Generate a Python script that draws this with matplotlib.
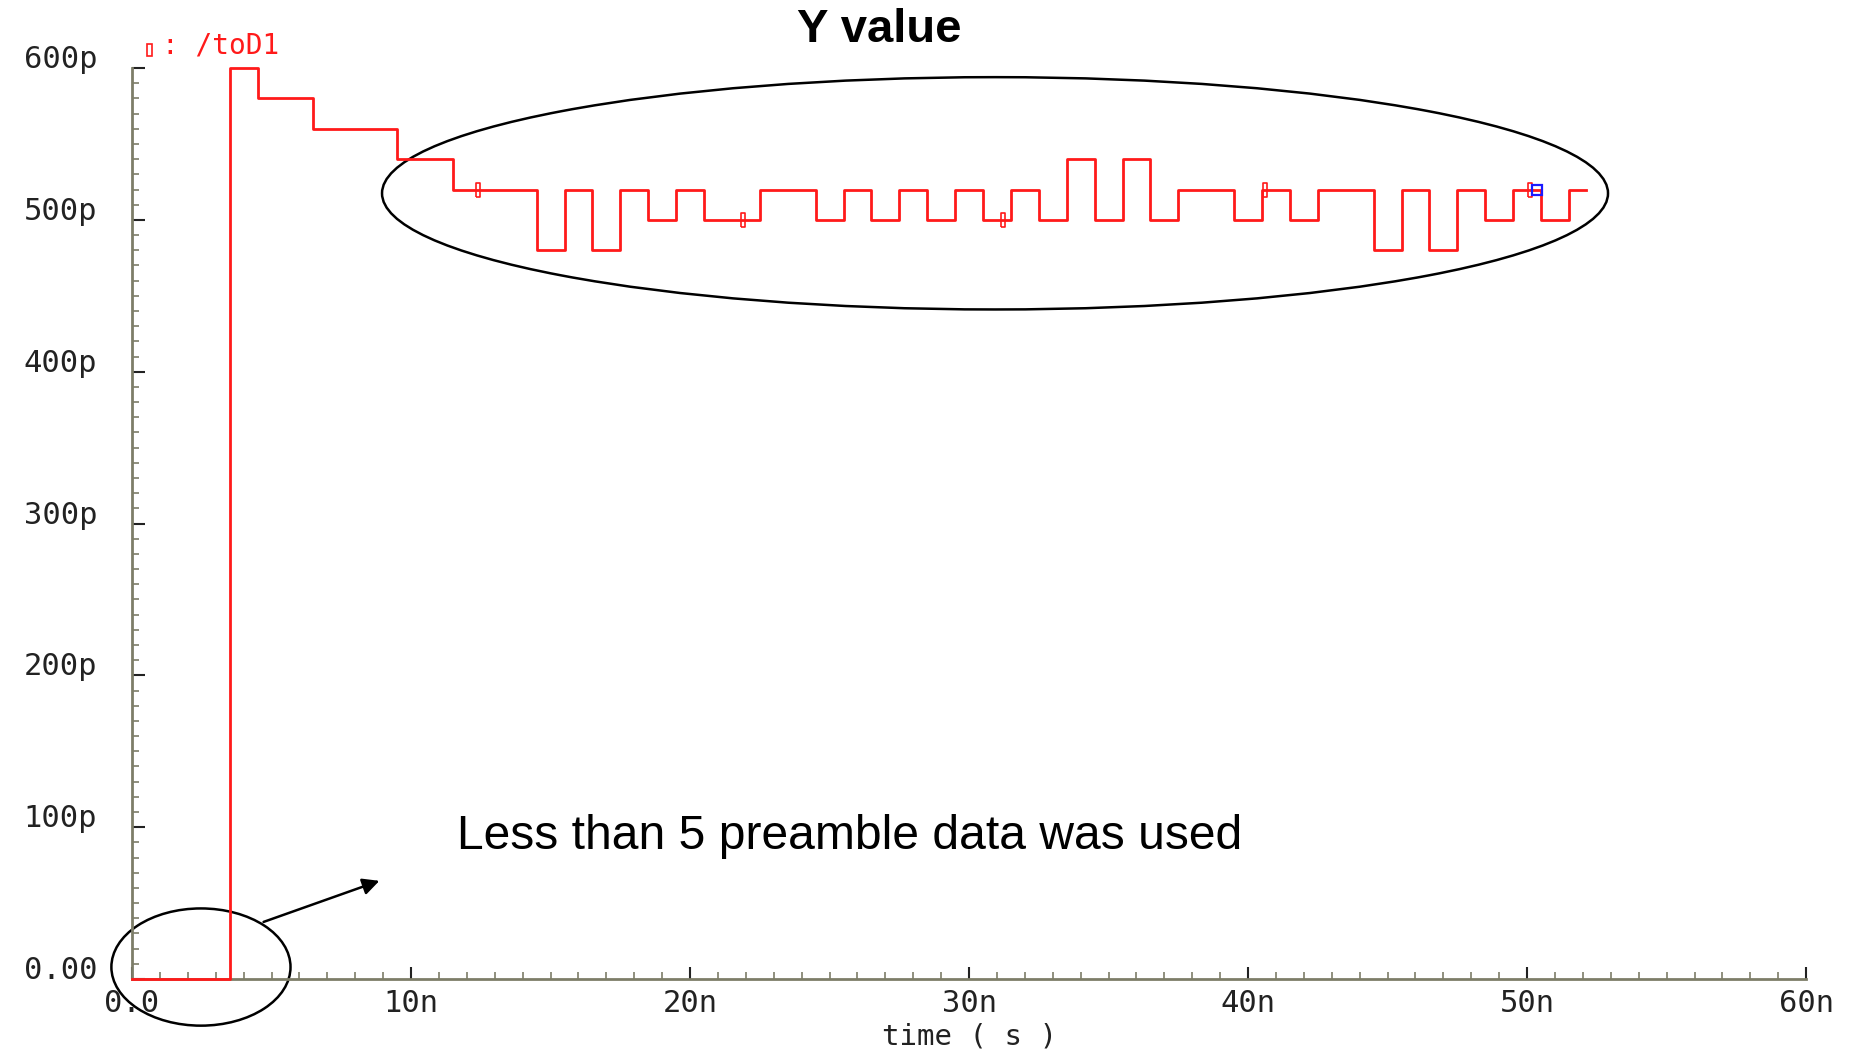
import matplotlib
matplotlib.use('Agg')
import matplotlib.pyplot as plt
from matplotlib.patches import Ellipse, Rectangle
from matplotlib.ticker import MultipleLocator

# waveform /toD1 : step edges (ns) and level after each edge (pF)
edge_t = [0, 3.5, 4.5, 6.5, 9.5, 11.5,
          14.5, 15.5, 16.5, 17.5, 18.5, 19.5, 20.5,
          22.5, 24.5, 25.5, 26.5, 27.5, 28.5, 29.5, 30.5, 31.5, 32.5, 33.5, 34.5, 35.5, 36.5, 37.5,
          39.5, 40.5, 41.5, 42.5,
          44.5, 45.5, 46.5, 47.5, 48.5, 49.5, 50.5, 51.5,
          52.1]
level_p = [0, 600, 580, 560, 540, 520,
           480, 520, 480, 520, 500, 520, 500,
           520, 500, 520, 500, 520, 500, 520, 500, 520, 500, 540, 500, 540, 500, 520,
           500, 520, 500, 520,
           480, 520, 480, 520, 500, 520, 500, 520,
           520]

# small sample markers on the trace
mark_t = [12.39, 21.9, 31.2, 40.6, 50.1]
mark_p = [520, 500, 500, 520, 520]
cursor_t, cursor_p = 50.35, 520

x_ticks = [0, 10, 20, 30, 40, 50, 60]
x_labels = ['0.0', '10n', '20n', '30n', '40n', '50n', '60n']
y_ticks = [0, 100, 200, 300, 400, 500, 600]
y_labels = ['0.00', '100p', '200p', '300p', '400p', '500p', '600p']

plt.rcParams['font.family'] = 'DejaVu Sans Mono'
axis_col = '#7d7d68'
txt_col = '#222222'

fig = plt.figure(figsize=(18.57, 10.55), dpi=100)
ax = fig.add_axes([0.0711, 0.0720, 0.9015, 0.8635])
ax.set_xlim(0, 60)
ax.set_ylim(0, 600)

for s in ['top', 'right']:
    ax.spines[s].set_visible(False)
for s in ['left', 'bottom']:
    ax.spines[s].set_color(axis_col)
    ax.spines[s].set_linewidth(2)

ax.step(edge_t, level_p, where='post', color='#ff1a1a', lw=2.0, zorder=3, clip_on=False)

rect_marker = [(-1.5, -4.5), (1.5, -4.5), (1.5, 4.5), (-1.5, 4.5), (-1.5, -4.5)]
ax.plot(mark_t, mark_p, ls='none', marker=rect_marker, ms=9.5, mfc='none',
        mec='#ff1a1a', mew=1.2, zorder=4)
ax.plot([cursor_t], [cursor_p], ls='none', marker='s', ms=6.5, mfc='none',
        mec='#1a1aff', mew=1.6, zorder=5)

ax.set_xticks(x_ticks)
ax.set_xticklabels(x_labels)
ax.set_yticks(y_ticks)
ax.set_yticklabels(y_labels)
ax.xaxis.set_minor_locator(MultipleLocator(1))
ax.yaxis.set_minor_locator(MultipleLocator(10))
ax.tick_params(which='both', direction='in', labelsize=22, labelcolor=txt_col)
ax.tick_params(which='major', length=9, width=1.5, color=txt_col)
ax.tick_params(which='minor', length=5, width=1.2, color=axis_col)
ax.tick_params(axis='x', which='major', pad=7)
ax.tick_params(axis='y', which='major', pad=25)
for t in ax.yaxis.get_major_ticks():
    t.label1.set_verticalalignment('baseline')

ax.set_xlabel('time ( s )', fontsize=21, color=txt_col)
ax.xaxis.set_label_coords(0.5, -0.0626)
ax.xaxis.label.set_verticalalignment('center')

# legend entry
fig.text(162 / 1857, 1 - 45 / 1055, ': /toD1', color='#ff1a1a', fontsize=20, va='center')
fig.add_artist(Rectangle((147 / 1857, 1 - 56 / 1055), 5 / 1857, 12 / 1055,
                         transform=fig.transFigure, fill=False, ec='#ff1a1a', lw=1.2))

# annotations
ax.add_patch(Ellipse((30.93, 517.5), 43.94, 153, fill=False, ec='black', lw=1.8, clip_on=False))
ax.add_patch(Ellipse((2.47, 7.9), 6.42, 77.2, fill=False, ec='black', lw=1.8, clip_on=False))
ax.annotate('', xy=(8.96, 65.3), xytext=(4.62, 37),
            arrowprops=dict(arrowstyle='-|>', color='black', lw=1.8, mutation_scale=25),
            annotation_clip=False)
ax.text(11.64, 94.2, 'Less than 5 preamble data was used', fontsize=34.6,
        family='Liberation Sans', va='center', ha='left', color='black')
fig.text(879 / 1857, 1 - 30 / 1055, 'Y value', fontsize=34, weight='bold',
         family='Liberation Sans', ha='center', va='center', color='black')

fig.savefig('out.png', dpi=100, facecolor='white')
